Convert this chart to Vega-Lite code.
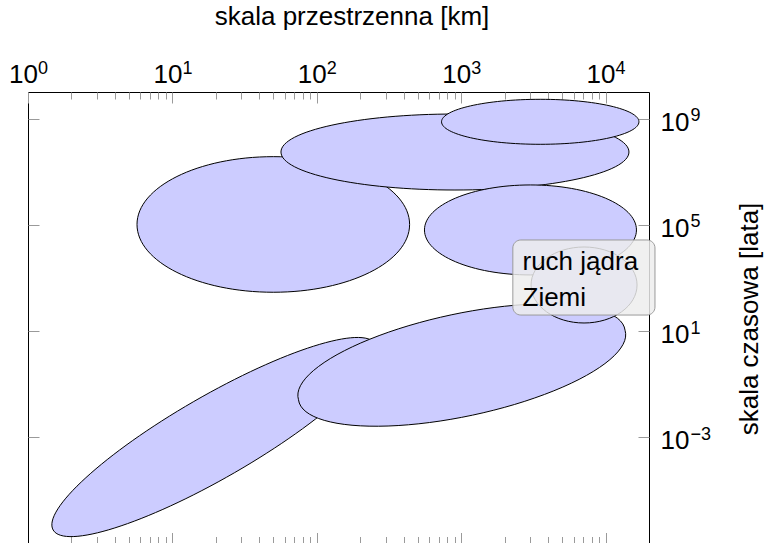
{
  "$schema": "https://vega.github.io/schema/vega-lite/v6.json",
  "width": 621,
  "height": 451.5,
  "autosize": "none",
  "padding": {"left": 28, "top": 92, "right": 121, "bottom": 0},
  "config": {
    "font": "Liberation Sans",
    "view": {"stroke": "black", "strokeWidth": 1},
    "axis": {
      "grid": false,
      "labelFont": "Liberation Sans",
      "titleFont": "Liberation Sans",
      "labelColor": "black",
      "titleColor": "black",
      "titleFontWeight": "normal",
      "tickColor": "#9a9a9a",
      "tickWidth": 1,
      "labelFlush": false,
      "labelOverlap": false,
      "labelBound": false
    }
  },
  "datasets": {
    "ellipses": [
      {"id": "E4", "x": 50, "y": 103000},
      {"id": "E2", "x": 906, "y": 55000000},
      {"id": "E1", "x": 3530, "y": 755000000},
      {"id": "E3", "x": 3020, "y": 64000},
      {"id": "E5", "x": 19.5, "y": 0.00102},
      {"id": "E6", "x": 1010, "y": 0.525},
      {"id": "E7", "x": 7100, "y": 541}
    ],
    "note": [
      {"x": 2280, "x2": 22000, "y": 26800, "y2": 40}
    ],
    "noteText": [
      {"text": "ruch jądra", "x": 2660, "y": 1990},
      {"text": "Ziemi", "x": 2660, "y": 88}
    ]
  },
  "layer": [
    {
      "data": {"name": "ellipses"},
      "mark": {"type": "point", "filled": true, "fill": "#ccccff", "stroke": "black", "strokeWidth": 1, "opacity": 1, "size": 4},
      "encoding": {
        "x": {
          "field": "x", "type": "quantitative",
          "scale": {"type": "log", "domain": [1, 20000], "nice": false},
          "axis": {
            "orient": "top",
            "values": [1, 10, 100, 1000, 10000],
            "labelExpr": "'10'",
            "ticks": false, "domain": false,
            "labelFontSize": 26, "labelPadding": 10, "labelBaseline": "alphabetic",
            "labelAlign": "center", "labelOffset": -5,
            "title": "skala przestrzenna [km]", "titleFontSize": 26,
            "titleX": 323.5, "titleY": -68, "titleBaseline": "alphabetic", "titleAlign": "center", "titleAnchor": null
          }
        },
        "y": {
          "field": "y", "type": "quantitative",
          "scale": {"type": "log", "domain": [1e-7, 1e10], "nice": false},
          "axis": {
            "orient": "right",
            "values": [0.001, 10, 100000, 1000000000],
            "labelExpr": "'10'",
            "ticks": false, "domain": false,
            "labelFontSize": 26, "labelPadding": 11, "labelBaseline": "alphabetic", "labelOffset": 11.5,
            "labelAlign": "left",
            "title": "skala czasowa [lata]", "titleFontSize": 26, "titleAngle": 270,
            "titleX": 108, "titleY": 226.5, "titleBaseline": "alphabetic", "titleAlign": "center", "titleAnchor": null
          }
        },
        "shape": {
          "field": "id", "type": "nominal", "legend": null,
          "scale": {
            "domain": ["E1", "E2", "E3", "E4", "E5", "E6", "E7"],
            "range": [
              "M -98.7 0 A 98.7 22.5 0 1 1 98.7 0 A 98.7 22.5 0 1 1 -98.7 0 Z",
              "M -174 0 A 174 38 0 1 1 174 0 A 174 38 0 1 1 -174 0 Z",
              "M -106 0 A 106 45 0 1 1 106 0 A 106 45 0 1 1 -106 0 Z",
              "M -136.3 0 A 136.3 67.8 0 1 1 136.3 0 A 136.3 67.8 0 1 1 -136.3 0 Z",
              "M -161.1 93 A 186 41 -30 1 1 161.1 -93 A 186 41 -30 1 1 -161.1 93 Z",
              "M -163.3 34.7 A 167 50 -12 1 1 163.3 -34.7 A 167 50 -12 1 1 -163.3 34.7 Z",
              "M -53 0 A 53 38 0 1 1 53 0 A 53 38 0 1 1 -53 0 Z"
            ]
          }
        }
      }
    },
    {
      "data": {"name": "note"},
      "mark": {"type": "rect", "fill": "#ededed", "fillOpacity": 0.84, "stroke": "#9a9a9a", "strokeWidth": 1, "cornerRadius": 8},
      "encoding": {
        "x": {
          "field": "x", "type": "quantitative",
          "axis": {
            "orient": "top", "domain": false, "title": null,
            "values": [1,2,3,4,5,6,7,8,9,10,20,30,40,50,60,70,80,90,100,200,300,400,500,600,700,800,900,1000,2000,3000,4000,5000,6000,7000,8000,9000,10000],
            "tickSize": {"condition": {"test": "indexof([1,10,100,1000,10000], datum.value) >= 0", "value": -11}, "value": -7},
            "labelExpr": "datum.value == 1 ? '0' : datum.value == 10 ? '1' : datum.value == 100 ? '2' : datum.value == 1000 ? '3' : datum.value == 10000 ? '4' : ''",
            "labelFontSize": 18, "labelAlign": "left", "labelOffset": 9.5, "labelBaseline": "alphabetic", "labelPadding": 30
          }
        },
        "x2": {"field": "x2"},
        "y": {
          "field": "y", "type": "quantitative",
          "axis": {
            "orient": "right", "domain": false, "title": null,
            "values": [1e-7, 0.001, 10, 100000, 1000000000], "tickSize": -11,
            "labelExpr": "datum.value < 0.00001 ? '' : datum.value < 0.01 ? '−3' : datum.value < 100 ? '1' : datum.value < 1000000 ? '5' : '9'",
            "labelFontSize": 18, "labelAlign": "left", "labelOffset": 2, "labelBaseline": "alphabetic", "labelPadding": 52
          }
        },
        "y2": {"field": "y2"}
      }
    },
    {
      "data": {"name": "noteText"},
      "mark": {"type": "text", "align": "left", "baseline": "alphabetic", "fontSize": 26, "font": "Liberation Sans", "color": "black"},
      "encoding": {
        "x": {
          "field": "x", "type": "quantitative",
          "axis": {
            "orient": "bottom", "labels": false, "domain": false, "title": null,
            "values": [2,3,4,5,6,7,8,9,10,20,30,40,50,60,70,80,90,100,200,300,400,500,600,700,800,900,1000,2000,3000,4000,5000,6000,7000,8000,9000,10000],
            "tickSize": {"condition": {"test": "indexof([10,100,1000,10000], datum.value) >= 0", "value": -11}, "value": -7}
          }
        },
        "y": {
          "field": "y", "type": "quantitative",
          "axis": {
            "orient": "left", "labels": false, "domain": false, "title": null,
            "values": [1e-7, 0.001, 10, 100000, 1000000000], "tickSize": -11
          }
        },
        "text": {"field": "text"}
      }
    }
  ],
  "resolve": {"axis": {"x": "independent", "y": "independent"}}
}
